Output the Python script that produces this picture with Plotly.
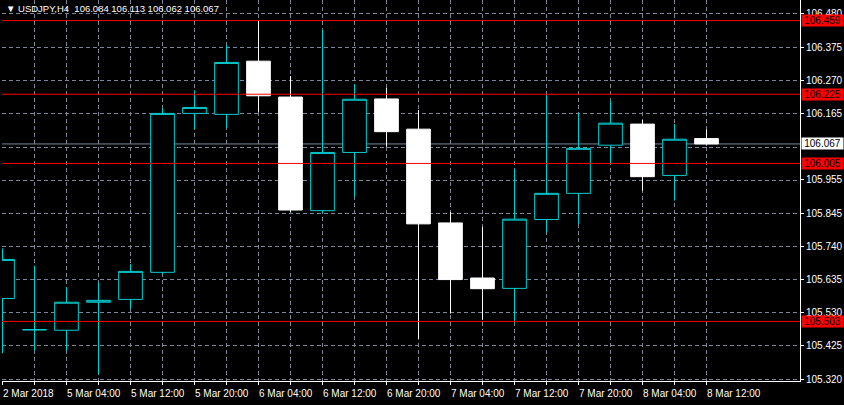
import plotly.graph_objects as go

# ---- data (USDJPY H4) ----
bar_times = ["2 Mar 20:00", "5 Mar 00:00", "5 Mar 04:00", "5 Mar 08:00", "5 Mar 12:00", "5 Mar 16:00",
             "5 Mar 20:00", "6 Mar 00:00", "6 Mar 04:00", "6 Mar 08:00", "6 Mar 12:00", "6 Mar 16:00",
             "6 Mar 20:00", "7 Mar 00:00", "7 Mar 04:00", "7 Mar 08:00", "7 Mar 12:00", "7 Mar 16:00",
             "7 Mar 20:00", "8 Mar 00:00", "8 Mar 04:00", "8 Mar 08:00", "8 Mar 12:00"]
open_ = [105.576, 105.476, 105.475, 105.564, 105.573, 105.659, 106.164, 106.161, 106.330, 106.216, 105.855,
         106.040, 106.210, 106.114, 105.816, 105.641, 105.608, 105.827, 105.910, 106.063, 106.130, 105.967, 106.084]
high = [105.735, 105.680, 105.612, 105.627, 105.685, 106.180, 106.237, 106.381, 106.459, 106.283, 106.429,
        106.257, 106.245, 106.175, 105.851, 105.803, 105.987, 106.222, 106.164, 106.203, 106.143, 106.130, 106.113]
low = [105.402, 105.411, 105.411, 105.335, 105.543, 105.653, 106.113, 106.117, 106.169, 105.851, 105.848,
       105.899, 106.058, 105.448, 105.528, 105.508, 105.500, 105.785, 105.813, 106.002, 105.918, 105.887, 106.062]
close = [105.700, 105.477, 105.564, 105.570, 105.662, 106.164, 106.183, 106.326, 106.220, 105.857, 106.040,
         106.209, 106.106, 105.813, 105.636, 105.607, 105.828, 105.910, 106.053, 106.133, 105.963, 106.082, 106.067]

price_ticks = [105.320, 105.425, 105.530, 105.635, 105.740, 105.845, 105.955, 106.165, 106.270, 106.375, 106.480]
grid_prices = [105.320, 105.425, 105.530, 105.635, 105.740, 105.845, 105.950, 106.055, 106.165, 106.270, 106.375, 106.480]
level_lines = [106.459, 106.225, 106.005, 105.503]
bid_price = 106.067

time_label_idx = [0, 2, 4, 6, 8, 10, 12, 14, 16, 18, 20, 22]
time_labels = ["2 Mar 2018", "5 Mar 04:00", "5 Mar 12:00", "5 Mar 20:00", "6 Mar 04:00", "6 Mar 12:00",
               "6 Mar 20:00", "7 Mar 04:00", "7 Mar 12:00", "7 Mar 20:00", "8 Mar 04:00", "8 Mar 12:00"]

title_text = "USDJPY,H4  106.084 106.113 106.062 106.067"

# ---- styles ----
CYAN = "#00CED1"
GRID = "#7B8899"
DASH = "4px,3px"
FONT = "Liberation Sans"
FS = 10
x = list(range(len(bar_times)))

fig = go.Figure()
fig.add_trace(go.Candlestick(
    x=x, open=open_, high=high, low=low, close=close,
    increasing=dict(line=dict(color=CYAN, width=1), fillcolor="#000000"),
    decreasing=dict(line=dict(color="#FFFFFF", width=1), fillcolor="#FFFFFF"),
    whiskerwidth=0, hoverinfo="skip", showlegend=False,
))

shapes = []
for p in level_lines:
    shapes.append(dict(type="line", xref="paper", x0=0, x1=1, yref="y", y0=p, y1=p,
                       line=dict(color="#FF0000", width=1), layer="above"))
shapes.append(dict(type="line", xref="paper", x0=0, x1=1, yref="y", y0=bid_price, y1=bid_price,
                   line=dict(color="#778899", width=1), layer="below"))

annotations = []
for p in level_lines:
    annotations.append(dict(xref="paper", x=1, xanchor="left", xshift=1, yref="y", y=p, yanchor="middle",
                            text=f"{p:.3f}", showarrow=False, bgcolor="#FF0000", width=41, align="center",
                            borderpad=0, font=dict(family=FONT, size=FS, color="#000000")))
annotations.append(dict(xref="paper", x=1, xanchor="left", xshift=1, yref="y", y=bid_price, yanchor="middle",
                        text=f"{bid_price:.3f}", showarrow=False, bgcolor="#FFFFFF", width=41, align="center",
                        borderpad=0, font=dict(family=FONT, size=FS, color="#000000")))
for i, t in zip(time_label_idx, time_labels):
    annotations.append(dict(xref="x", x=i, xanchor="left", xshift=-2, yref="paper", y=0, yanchor="top",
                            yshift=-5, text=t, showarrow=False,
                            font=dict(family=FONT, size=FS, color="#FFFFFF")))
annotations.append(dict(xref="paper", x=0, xanchor="left", xshift=2, yref="paper", y=1, yanchor="top",
                        yshift=-1, text="▼ " + title_text, showarrow=False,
                        font=dict(family=FONT, size=9.5, color="#FFFFFF")))

px_per_bar = 32.0
x0 = -0.5 / px_per_bar
x1 = x0 + 798 / px_per_bar

fig.update_layout(
    width=844, height=405,
    margin=dict(l=2, r=44, t=0, b=24),
    paper_bgcolor="#000000", plot_bgcolor="#000000",
    font=dict(family=FONT, size=FS, color="#FFFFFF"),
    shapes=shapes, annotations=annotations,
    xaxis=dict(range=[x0, x1], rangeslider=dict(visible=False), tickvals=x, showticklabels=False,
               ticks="outside", ticklen=3, tickcolor="#FFFFFF", showgrid=True, gridcolor=GRID,
               griddash=DASH, gridwidth=1, showline=True, linecolor="#FFFFFF", linewidth=1,
               zeroline=False, fixedrange=True),
    yaxis=dict(range=[105.3137, 106.5244], side="right", tickvals=price_ticks,
               ticktext=[f"{v:.3f}" for v in price_ticks], ticks="outside", ticklen=3,
               tickcolor="#FFFFFF", showgrid=False, showline=True, linecolor="#FFFFFF",
               linewidth=1, zeroline=False, fixedrange=True,
               tickfont=dict(family=FONT, size=FS, color="#FFFFFF")),
    yaxis2=dict(overlaying="y", range=[105.3137, 106.5244], tickvals=grid_prices, showticklabels=False,
                showgrid=True, gridcolor=GRID, griddash=DASH, gridwidth=1, zeroline=False,
                fixedrange=True),
    boxgap=0.26, boxgroupgap=0,
)
# helper trace to activate the grid axis
fig.add_trace(go.Scatter(x=[None], y=[None], yaxis="y2", showlegend=False, hoverinfo="skip"))

fig.write_html("out.html", config={"displayModeBar": False, "staticPlot": True},
               post_script="document.body.style.margin='0';document.body.style.overflow='hidden';")
